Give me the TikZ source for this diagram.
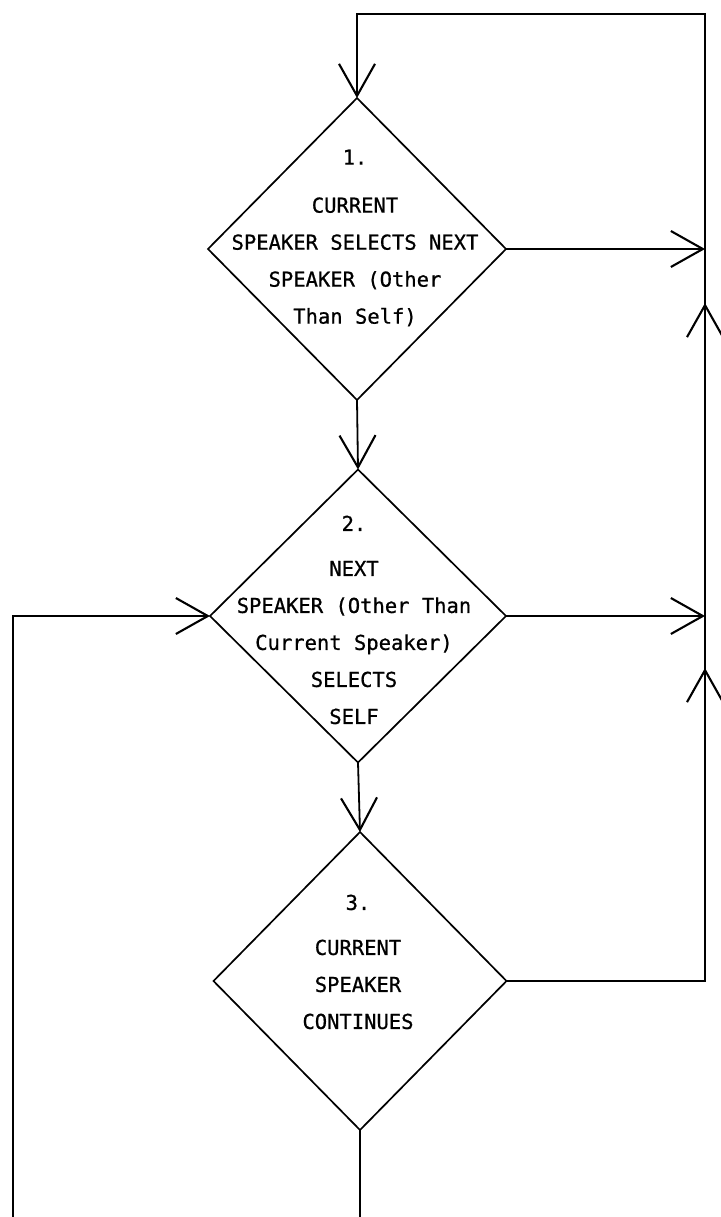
\documentclass[tikz,border=0pt]{standalone}
\usepackage{fontspec}
\newfontfamily\typefont[FakeBold=0.8]{DejaVu Sans Mono}
\usetikzlibrary{shapes.geometric,arrows.meta}

\tikzset{
  decision/.style={shape=diamond, draw, line width=1.7pt, inner sep=0pt,
    outer sep=0pt, minimum width=#1},
  label/.style={align=center, inner sep=0pt, anchor=north,
    font=\typefont\fontsize{20.5}{37}\selectfont},
  flow/.style={line width=1.8pt},
  arr/.style={flow, -{Straight Barb[length=32pt, width=36pt, line width=2.1pt]}},
}

\begin{document}
\begin{tikzpicture}[x=1pt, y=-1pt]
\useasboundingbox (0,0) rectangle (720,1217);

% decision boxes
\node[decision=298pt, minimum height=302pt] (d1) at (357,249) {};
\node[decision=296pt, minimum height=293pt] (d2) at (358,616) {};
\node[decision=293pt, minimum height=298pt] (d3) at (360,981) {};

% box texts
\node[label] (t1) at (355,149.5) {1.\\[11pt]CURRENT\\SPEAKER SELECTS NEXT\\SPEAKER (Other\\Than Self)};
\node[label] (t2) at (354,515.5) {2.\\[8pt]NEXT\\SPEAKER (Other Than\\Current Speaker)\\SELECTS\\SELF};
\node[label] (t3) at (358,894.5) {3.\\[8pt]CURRENT\\SPEAKER\\CONTINUES};

% junction points on the return lines
\coordinate (j1) at (705,249);
\coordinate (j2) at (705,616);
\coordinate (u1) at (705,303);
\coordinate (u1s) at (705,360);
\coordinate (u2) at (705,668);
\coordinate (u2s) at (705,725);
\coordinate (r3) at (705,981);
\coordinate (rt) at (705,14);
\coordinate (lt) at (357,14);
\coordinate (lc) at (13,616);
\coordinate (lb) at (13,1217);
\coordinate (mb) at (360,1217);

% main flow
\draw[arr] (d1.south) -- (d2.north);
\draw[arr] (d2.south) -- (d3.north);
\draw[flow] (d3.south) -- (mb);

% exits to the right and return to the top
\draw[arr] (d1.east) -- (j1);
\draw[arr] (d2.east) -- (j2);
\draw[arr] (d3.east) -- (r3) -- (rt) -- (lt) -- (d1.north);
\draw[arr] (u1s) -- (u1);
\draw[arr] (u2s) -- (u2);

% return on the left into box 2
\draw[arr] (lb) -- (lc) -- (d2.west);
\end{tikzpicture}
\end{document}
